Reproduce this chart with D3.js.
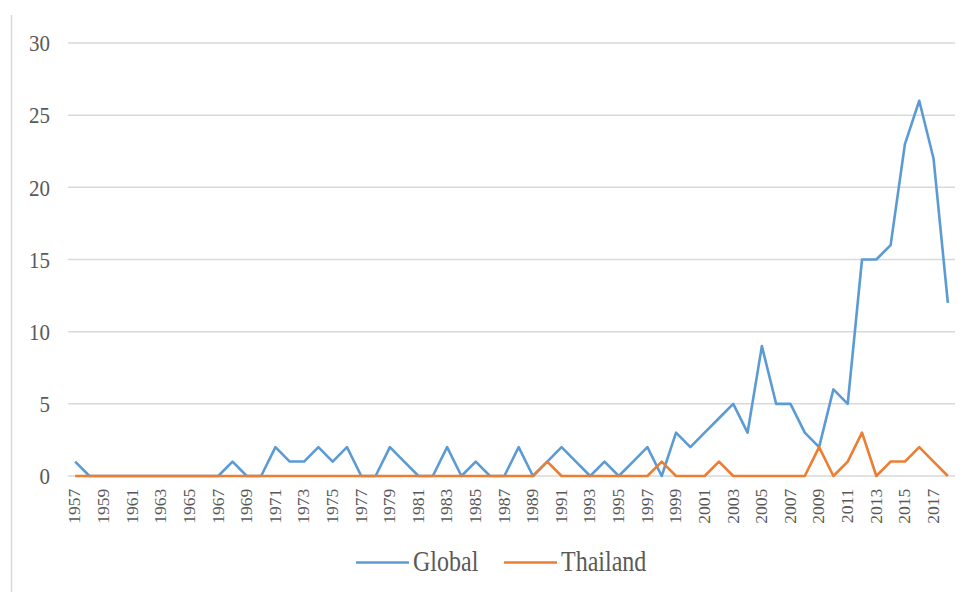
<!DOCTYPE html>
<html>
<head>
<meta charset="utf-8">
<script src="https://cdn.jsdelivr.net/npm/d3@7"></script>
<style>
  html, body { margin: 0; padding: 0; background: #fff; }
  svg { display: block; }
</style>
</head>
<body>
<svg id="chart" width="970" height="592"></svg>
<script>
const years = d3.range(1957, 2019).map(String);
const globalValues = [
  1, 0, 0, 0, 0, 0, 0, 0, 0, 0,   // 1957-1966
  0, 1, 0, 0, 2, 1, 1, 2, 1, 2,   // 1967-1976
  0, 0, 2, 1, 0, 0, 2, 0, 1, 0,   // 1977-1986
  0, 2, 0, 1, 2, 1, 0, 1, 0, 1,   // 1987-1996
  2, 0, 3, 2, 3, 4, 5, 3, 9, 5,   // 1997-2006
  5, 3, 2, 6, 5, 15, 15, 16, 23, 26, // 2007-2016
  22, 12                           // 2017-2018
];
const thailandValues = [
  0, 0, 0, 0, 0, 0, 0, 0, 0, 0,
  0, 0, 0, 0, 0, 0, 0, 0, 0, 0,
  0, 0, 0, 0, 0, 0, 0, 0, 0, 0,
  0, 0, 0, 1, 0, 0, 0, 0, 0, 0,
  0, 1, 0, 0, 0, 1, 0, 0, 0, 0,
  0, 0, 2, 0, 1, 3, 0, 1, 1, 2,
  1, 0
];
const yTicks = [0, 5, 10, 15, 20, 25, 30];
const seriesNames = ["Global", "Thailand"];
const seriesColors = ["#5B9BD5", "#ED7D31"];

const FONT = "Liberation Serif";
const svg = d3.select("#chart").attr("font-family", FONT);
const plotLeft = 68, plotRight = 955, plotTop = 43, plotBottom = 476;

// chart border line at left
svg.append("line").attr("x1", 11.5).attr("x2", 11.5).attr("y1", 15).attr("y2", 592)
  .attr("stroke", "#d9d9d9").attr("stroke-width", 1.5);

const x = d3.scaleBand().domain(years).range([plotLeft, plotRight]);
const y = d3.scaleLinear().domain([0, 30]).range([plotBottom, plotTop]);

// gridlines
svg.append("g").selectAll("line").data(yTicks).join("line")
  .attr("x1", plotLeft).attr("x2", plotRight)
  .attr("y1", d => y(d)).attr("y2", d => y(d))
  .attr("stroke", "#d9d9d9").attr("stroke-width", 1.5);

// y axis labels
const yAxis = d3.axisLeft(y).tickValues(yTicks).tickSize(0).tickPadding(0);
const gy = svg.append("g").attr("transform", `translate(50,0)`).call(yAxis)
  .attr("font-family", FONT).attr("font-size", 21);
gy.select(".domain").remove();
gy.selectAll("text").attr("fill", "#595959").attr("dy", null).attr("y", 7)
  .attr("transform", "scale(1,1.1)");

// x axis labels (every other year)
const xAxis = d3.axisBottom(x).tickValues(years.filter((d, i) => i % 2 === 0)).tickSize(0).tickPadding(0);
const gx = svg.append("g").attr("transform", `translate(0,${plotBottom})`).call(xAxis)
  .attr("font-family", FONT).attr("font-size", 16);
gx.select(".domain").remove();
gx.selectAll("text")
  .attr("fill", "#595959")
  .attr("text-anchor", "end")
  .attr("transform", "rotate(-90) scale(1.1,1)")
  .attr("x", -11.5).attr("y", 0).attr("dy", "0.33em");

// lines
const cx = d => x(d) + x.bandwidth() / 2;
const line = d3.line().x(d => cx(d.year)).y(d => y(d.value));
const seriesData = [globalValues, thailandValues];
seriesData.forEach((vals, i) => {
  svg.append("path")
    .datum(years.map((yr, j) => ({ year: yr, value: vals[j] })))
    .attr("fill", "none")
    .attr("stroke", seriesColors[i])
    .attr("stroke-width", 2.6)
    .attr("stroke-linejoin", "round")
    .attr("d", line);
});

// legend
const legend = svg.append("g").attr("font-family", FONT).attr("font-size", 24);
const legendItems = [{ x: 356, name: seriesNames[0], c: seriesColors[0] }, { x: 504, name: seriesNames[1], c: seriesColors[1] }];
legendItems.forEach(it => {
  legend.append("line").attr("x1", it.x).attr("x2", it.x + 53).attr("y1", 562.5).attr("y2", 562.5)
    .attr("stroke", it.c).attr("stroke-width", 2.6);
  legend.append("text")
    .attr("transform", `translate(${it.x + 57},571) scale(1,1.2)`)
    .attr("fill", "#595959").text(it.name);
});
</script>
</body>
</html>
